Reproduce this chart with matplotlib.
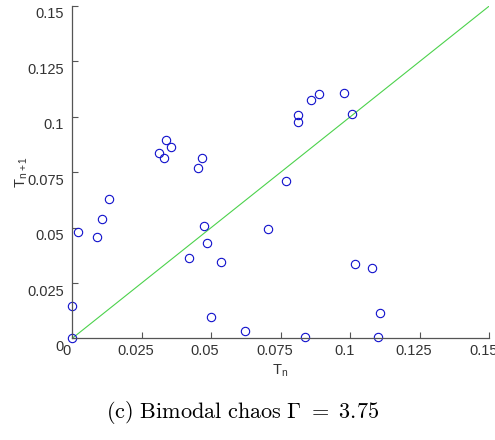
import matplotlib
matplotlib.use("Agg")
import matplotlib.pyplot as plt
import matplotlib.transforms as mtransforms

# return map points (T_n, T_{n+1})
tn = [0.0337, 0.0355, 0.0313, 0.0331, 0.0467, 0.0453, 0.0888, 0.0860,
      0.0977, 0.0812, 0.0812, 0.1008, 0.0768, 0.0020, 0.0088, 0.0107,
      0.0134, 0.0000, 0.0000, 0.0473, 0.0484, 0.0421, 0.0535, 0.0499,
      0.0623, 0.0703, 0.1017, 0.1077, 0.1108, 0.1100, 0.0838]
tn1 = [0.0894, 0.0864, 0.0837, 0.0816, 0.0816, 0.0767, 0.1101, 0.1077,
       0.1107, 0.1007, 0.0975, 0.1014, 0.0712, 0.0481, 0.0459, 0.0541,
       0.0628, 0.0146, 0.0000, 0.0507, 0.0429, 0.0363, 0.0346, 0.0098,
       0.0032, 0.0493, 0.0337, 0.0319, 0.0115, 0.0008, 0.0007]
diag = [0, 0.15]
ticks = [0, 0.025, 0.05, 0.075, 0.1, 0.125, 0.15]
tick_labels = ["0", "0.025", "0.05", "0.075", "0.1", "0.125", "0.15"]

plt.rcParams["font.family"] = ["Liberation Sans", "DejaVu Sans"]
plt.rcParams["mathtext.fontset"] = "cm"

fig = plt.figure(figsize=(4.95, 4.4), dpi=100)
ax = fig.add_axes([0.1455, 0.2307, 0.843, 0.7557])

ax.plot(diag, diag, color="#4cd24c", lw=0.8)
ax.plot(tn, tn1, "o", mfc="none", mec="#1010cc", mew=0.8, ms=6,
        clip_on=False)

ax.set_xlim(0, 0.15)
ax.set_ylim(0, 0.15)
ax.set_xticks(ticks)
ax.set_xticklabels(tick_labels)
ax.set_yticks(ticks)
ax.set_yticklabels(tick_labels)

grey = "#555555"
for s in ["top", "right"]:
    ax.spines[s].set_visible(False)
for s in ["left", "bottom"]:
    ax.spines[s].set_color(grey)
    ax.spines[s].set_linewidth(0.9)
ax.tick_params(direction="in", length=4, width=0.8, colors=grey,
               labelcolor="#333333", labelsize=10.5)
ax.tick_params(axis="x", pad=4)
ax.tick_params(axis="y", pad=6)

# MATLAB export puts tick labels slightly off their ticks
dx = mtransforms.ScaledTranslation(-0.06, 0, fig.dpi_scale_trans)
dy = mtransforms.ScaledTranslation(0, -0.07, fig.dpi_scale_trans)
for lab in ax.get_xticklabels():
    lab.set_transform(lab.get_transform() + dx)
for lab in ax.get_yticklabels():
    lab.set_transform(lab.get_transform() + dy)

ax.set_xlabel(r"T$_\mathregular{n}$", fontsize=10.5, color="#333333", labelpad=3)
ax.set_ylabel(r"T$_\mathregular{n+1}$", fontsize=10.5, color="#333333", labelpad=-2)

fig.text(0.49, 0.062, r"$\mathrm{(c)\ Bimodal\ chaos\ }\Gamma\ =\ 3.75$",
         ha="center", va="center", fontsize=16)

fig.savefig("out.png", dpi=100)
